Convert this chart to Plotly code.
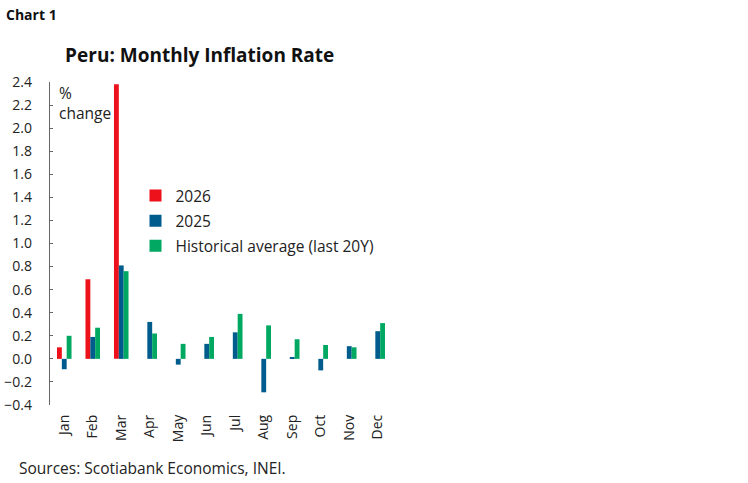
import plotly.graph_objects as go

months = ["Jan", "Feb", "Mar", "Apr", "May", "Jun", "Jul", "Aug", "Sep", "Oct", "Nov", "Dec"]
y2026 = [0.10, 0.69, 2.38, None, None, None, None, None, None, None, None, None]
y2025 = [-0.09, 0.19, 0.81, 0.32, -0.05, 0.13, 0.23, -0.29, 0.01, -0.10, 0.11, 0.24]
hist20 = [0.20, 0.27, 0.76, 0.22, 0.13, 0.19, 0.39, 0.29, 0.17, 0.12, 0.10, 0.31]

series_names = ["2026", "2025", "Historical average (last 20Y)"]
series_colors = ["#EC111A", "#005C8C", "#00A862"]

FONT = "Open Sans"
TXT = "#222222"
AX = "#666666"

fig = go.Figure()
for name, vals, col in zip(series_names, [y2026, y2025, hist20], series_colors):
    fig.add_trace(go.Bar(x=months, y=vals, name=name, legendgroup=name,
                         marker=dict(color=col, line=dict(width=0))))

fig.update_layout(
    width=748, height=483,
    margin=dict(l=50, r=356, t=82, b=78),
    paper_bgcolor="white", plot_bgcolor="white",
    font=dict(family=FONT, size=14, color=TXT),
    barmode="group", bargap=0.49, bargroupgap=0,
    showlegend=True,
    legend=dict(x=0.25, y=0.70, xanchor="left", yanchor="top",
                font=dict(size=15.5, color=TXT), bgcolor="rgba(0,0,0,0)",
                itemwidth=30, tracegroupgap=2),
    title=dict(text="<b>Peru: Monthly Inflation Rate</b>", x=0.267, xanchor="center",
               y=0.886, yanchor="middle", font=dict(family=FONT, size=19, color="#111111")),
    xaxis=dict(type="category", categoryorder="array", categoryarray=months,
               range=[-0.5, 11.5], tickangle=-90, showline=False, ticks="",
               showgrid=False, zeroline=False, ticklabelstandoff=6, automargin=False,
               tickfont=dict(size=14, color=TXT)),
    xaxis2=dict(overlaying="x", anchor="free", position=0.4 / 2.8, range=[-0.5, 11.5],
                showline=True, linecolor=AX, linewidth=1.3, ticks="outside", ticklen=5,
                tickcolor=AX, tickwidth=1.3, tickmode="array", automargin=False,
                tickvals=[i - 0.5 for i in range(13)], showticklabels=False,
                showgrid=False, zeroline=False),
    yaxis=dict(range=[-0.4, 2.4], dtick=0.2, tick0=0, tickformat=".1f",
               showline=True, linecolor=AX, linewidth=1.3, ticks="inside", ticklen=3,
               tickcolor=AX, tickwidth=1.3, showgrid=False, zeroline=False,
               automargin=False, ticklabelstandoff=14, tickfont=dict(size=14, color=TXT)),
)

fig.add_annotation(text="%<br>change", xref="paper", yref="paper", x=0.02, y=1.005,
                   xanchor="left", yanchor="top", align="left", showarrow=False,
                   font=dict(size=15.5, color=TXT))
fig.add_annotation(text="<b>Chart 1</b>", xref="paper", yref="paper", x=-0.135, y=1.245,
                   xanchor="left", yanchor="top", showarrow=False,
                   font=dict(size=14, color="#111111"))
fig.add_annotation(text="Sources: Scotiabank Economics, INEI.", xref="paper", yref="paper",
                   x=-0.097, y=-0.195, xanchor="left", yanchor="middle", showarrow=False,
                   font=dict(size=15.5, color=TXT))

fig.write_html("out.html", config={"displayModeBar": False},
               post_script="document.body.style.margin='0px';")
